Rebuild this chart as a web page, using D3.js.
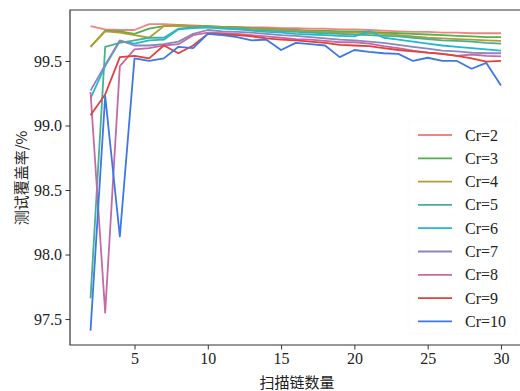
<!DOCTYPE html>
<html>
<head>
<meta charset="utf-8">
<script src="https://cdn.jsdelivr.net/npm/d3@7"></script>
<style>
  body { margin: 0; background: #fff; }
  .tick text { font-family: "Liberation Serif", "Times New Roman", serif; font-size: 16px; fill: #222; }
  .tick line { stroke: #333; stroke-width: 1; }
</style>
</head>
<body>
<script>
// scan chain count on x, coverage (%) on y
var chains = d3.range(2, 31);
var crLabels = ["Cr=2", "Cr=3", "Cr=4", "Cr=5", "Cr=6", "Cr=7", "Cr=8", "Cr=9", "Cr=10"];
var colors = ["#ee8580", "#4db34a", "#b89a30", "#47b094", "#22b8d2", "#8b86bb", "#c46aa9", "#e3403a", "#3d78e3"];

var cr2 = [99.77, 99.745, 99.74, 99.74, 99.785, 99.785, 99.78, 99.775, 99.77, 99.765, 99.765, 99.76, 99.76, 99.755, 99.755, 99.75, 99.75, 99.745, 99.745, 99.74, 99.735, 99.73, 99.725, 99.725, 99.72, 99.72, 99.715, 99.715, 99.715];
var cr3 = [99.61, 99.735, 99.73, 99.71, 99.75, 99.77, 99.775, 99.77, 99.77, 99.765, 99.76, 99.755, 99.75, 99.745, 99.74, 99.735, 99.735, 99.73, 99.73, 99.725, 99.72, 99.715, 99.71, 99.705, 99.70, 99.695, 99.69, 99.685, 99.685];
var cr4 = [99.61, 99.73, 99.72, 99.70, 99.68, 99.77, 99.775, 99.77, 99.765, 99.76, 99.755, 99.75, 99.745, 99.74, 99.735, 99.73, 99.725, 99.72, 99.72, 99.715, 99.71, 99.70, 99.69, 99.68, 99.675, 99.67, 99.665, 99.66, 99.655];
var cr5 = [97.66, 99.61, 99.64, 99.66, 99.68, 99.68, 99.75, 99.76, 99.76, 99.755, 99.75, 99.74, 99.735, 99.73, 99.725, 99.72, 99.715, 99.71, 99.705, 99.70, 99.695, 99.69, 99.68, 99.67, 99.66, 99.655, 99.65, 99.64, 99.635];
var cr6 = [99.21, 99.46, 99.655, 99.635, 99.66, 99.665, 99.745, 99.755, 99.76, 99.75, 99.745, 99.735, 99.725, 99.72, 99.71, 99.705, 99.70, 99.695, 99.69, 99.73, 99.68, 99.665, 99.65, 99.635, 99.62, 99.61, 99.60, 99.59, 99.58];
var cr7 = [99.27, 99.47, 99.66, 99.62, 99.62, 99.63, 99.65, 99.71, 99.74, 99.73, 99.725, 99.72, 99.71, 99.70, 99.695, 99.685, 99.675, 99.665, 99.66, 99.65, 99.64, 99.625, 99.61, 99.595, 99.58, 99.575, 99.565, 99.56, 99.56];
var cr8 = [99.26, 97.55, 99.46, 99.59, 99.60, 99.62, 99.63, 99.70, 99.72, 99.715, 99.71, 99.70, 99.69, 99.68, 99.67, 99.665, 99.655, 99.645, 99.645, 99.635, 99.615, 99.60, 99.58, 99.565, 99.555, 99.54, 99.55, 99.54, 99.535];
var cr9 = [99.08, 99.24, 99.53, 99.54, 99.52, 99.62, 99.56, 99.62, 99.71, 99.705, 99.70, 99.69, 99.675, 99.665, 99.66, 99.65, 99.64, 99.625, 99.62, 99.615, 99.60, 99.585, 99.575, 99.565, 99.555, 99.54, 99.52, 99.495, 99.50];
var cr10 = [97.41, 99.23, 98.14, 99.52, 99.50, 99.52, 99.61, 99.60, 99.71, 99.70, 99.685, 99.66, 99.665, 99.585, 99.64, 99.63, 99.62, 99.53, 99.585, 99.57, 99.56, 99.555, 99.50, 99.525, 99.50, 99.50, 99.44, 99.485, 99.31];

var xTicks = [5, 10, 15, 20, 25, 30];
var yTicks = [97.5, 98.0, 98.5, 99.0, 99.5];

var series = [cr2, cr3, cr4, cr5, cr6, cr7, cr8, cr9, cr10];

var width = 520;
var height = 391;
var plotLeft = 70, plotRight = 521.5, plotTop = 10, plotBottom = 345;

var svg = d3.select("body")
    .append("svg")
    .attr("width", width)
    .attr("height", height);

var xScale = d3.scaleLinear()
    .domain([0.6, 31.4])
    .range([plotLeft, plotRight]);

var yScale = d3.scaleLinear()
    .domain([97.299, 99.895])
    .range([plotBottom, plotTop]);

var xAxis = d3.axisBottom(xScale)
    .tickValues(xTicks)
    .tickSize(4.5)
    .tickSizeOuter(0)
    .tickPadding(3.5);

var yAxis = d3.axisLeft(yScale)
    .tickValues(yTicks)
    .tickFormat(d3.format(".1f"))
    .tickSize(4.5)
    .tickSizeOuter(0)
    .tickPadding(3.5);

// lines
var line = d3.line()
    .x(function(d, i) { return xScale(chains[i]); })
    .y(function(d) { return yScale(d); });

svg.selectAll("path.series")
   .data(series)
   .enter()
   .append("path")
   .attr("class", "series")
   .attr("d", line)
   .attr("fill", "none")
   .attr("stroke", function(d, i) { return colors[i]; })
   .attr("stroke-width", 1.8)
   .attr("stroke-linejoin", "round");

// axes
var gx = svg.append("g")
   .attr("transform", "translate(0," + plotBottom + ")")
   .call(xAxis);
gx.select(".domain").remove();

var gy = svg.append("g")
   .attr("transform", "translate(" + plotLeft + ",0)")
   .call(yAxis);
gy.select(".domain").remove();

// spines (right one falls outside the picture)
svg.append("path")
   .attr("d", "M" + plotRight + "," + plotTop + "H" + plotLeft + "V" + plotBottom + "H" + plotRight)
   .attr("fill", "none")
   .attr("stroke", "#333")
   .attr("stroke-width", 1.2);

// axis labels
svg.append("text")
   .attr("x", 297)
   .attr("y", 388)
   .attr("text-anchor", "middle")
   .style("font-family", "'Noto Sans CJK SC', sans-serif")
   .style("font-size", "15px")
   .style("fill", "#222")
   .text("扫描链数量");

svg.append("text")
   .attr("transform", "translate(27,178) rotate(-90)")
   .attr("text-anchor", "middle")
   .style("font-family", "'Noto Sans CJK SC', sans-serif")
   .style("font-size", "15px")
   .style("fill", "#222")
   .text("测试覆盖率/%");

// legend (frame is almost invisible in the original)
var legend = svg.append("g");
legend.append("rect")
   .attr("x", 408).attr("y", 120)
   .attr("width", 108).attr("height", 214)
   .attr("rx", 3)
   .attr("fill", "#fff")
   .attr("fill-opacity", 0.8)
   .attr("stroke", "#fbfbfb");

var rows = legend.selectAll("g.row")
   .data(crLabels)
   .enter()
   .append("g")
   .attr("class", "row")
   .attr("transform", function(d, i) { return "translate(0," + (135 + i * 23.3) + ")"; });

rows.append("line")
   .attr("x1", 418).attr("x2", 452)
   .attr("y1", 0).attr("y2", 0)
   .attr("stroke", function(d, i) { return colors[i]; })
   .attr("stroke-width", 1.8);

rows.append("text")
   .attr("x", 465)
   .attr("y", 5.5)
   .style("font-family", "'Liberation Serif', 'Times New Roman', serif")
   .style("font-size", "16px")
   .style("fill", "#222")
   .text(function(d) { return d; });
</script>
</body>
</html>
